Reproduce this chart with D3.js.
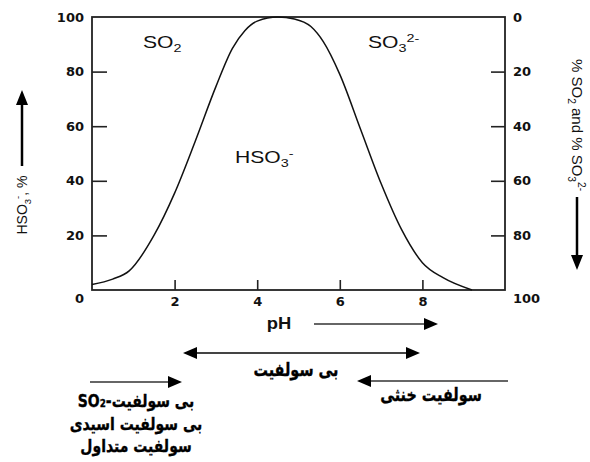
<!DOCTYPE html>
<html>
<head>
<meta charset="utf-8">
<script src="https://cdn.jsdelivr.net/npm/d3@7"></script>
<style>
  html, body { margin: 0; padding: 0; background: #fff; }
  svg { display: block; }
  .tick text { font-family: "DejaVu Sans", sans-serif; font-weight: bold; font-size: 13px; fill: #111; }
  .lbl { font-family: "Liberation Sans", Arial, sans-serif; fill: #111; }
  .fa { font-family: "DejaVu Sans", sans-serif; font-weight: bold; font-size: 18px; fill: #000; stroke: #000; stroke-width: 0.35px; direction: rtl; unicode-bidi: embed; }
</style>
</head>
<body>
<svg id="chart" width="590" height="462"></svg>
<script>
// HSO3- fraction across pH
const phValues    = [0, 0.5, 0.9, 1.5, 2.0, 2.5, 3.0, 3.4, 3.7, 4.0, 4.5, 4.9, 5.3, 5.6, 6.0, 6.5, 7.0, 7.5, 8.0, 8.5, 9.2];
const hso3Percent = [2, 4, 7, 20, 35.5, 54.5, 74.5, 88.5, 95, 98.5, 100, 99.3, 96.5, 91, 79, 59, 39, 22, 10, 4.5, 0];

const xTicks = [2, 4, 6, 8];
const leftTicks = [20, 40, 60, 80, 100];
const rightTicks = [0, 20, 40, 60, 80];

// Persian labels for the pH ranges
const bisulfiteLabel = "بی سولفیت";
const neutralSulfiteLabel = "سولفیت خنثی";
const acidLines = ["بی سولفیت-SO₂", "بی سولفیت اسیدی", "سولفیت متداول"];

const svg = d3.select("#chart");
const L = 92, R = 505, T = 17, B = 290;

const x = d3.scaleLinear().domain([0, 10]).range([L, R]);
const y = d3.scaleLinear().domain([0, 100]).range([B, T]);
const yRight = d3.scaleLinear().domain([100, 0]).range([B, T]);

// axes with inward ticks
const gL = svg.append("g").attr("transform", `translate(${L},0)`)
  .call(d3.axisLeft(y).tickValues(leftTicks).tickSize(-15).tickPadding(8).tickFormat(d3.format("d")));
const gR = svg.append("g").attr("transform", `translate(${R},0)`)
  .call(d3.axisRight(yRight).tickValues(rightTicks).tickSize(-14).tickPadding(8).tickFormat(d3.format("d")));
const gB = svg.append("g").attr("transform", `translate(0,${B})`)
  .call(d3.axisBottom(x).tickValues(xTicks).tickSize(-10).tickPadding(7).tickFormat(d3.format("d")));
[gL, gR, gB].forEach(g => {
  g.select(".domain").remove();
  g.selectAll(".tick line").attr("stroke", "#222").attr("stroke-width", 1.6);
});
gL.selectAll(".tick").filter(d => d === 100).select("line").remove();
gR.selectAll(".tick").filter(d => d === 0).select("line").remove();

// corner labels sit on the pH label row
svg.append("text").attr("class", "lbl").attr("x", L - 8).attr("y", B + 13)
  .attr("text-anchor", "end").style("font-family", "DejaVu Sans").style("font-weight", "bold").style("font-size", "13px").text("0");
svg.append("text").attr("class", "lbl").attr("x", R + 8).attr("y", B + 13)
  .style("font-family", "DejaVu Sans").style("font-weight", "bold").style("font-size", "13px").text("100");

// frame
svg.append("rect").attr("x", L).attr("y", T).attr("width", R - L).attr("height", B - T)
  .attr("fill", "none").attr("stroke", "#222").attr("stroke-width", 1.8);

// curve
const pts = phValues.map((p, i) => [p, hso3Percent[i]]);
svg.append("path").datum(pts)
  .attr("fill", "none").attr("stroke", "#111").attr("stroke-width", 1.5)
  .attr("d", d3.line().x(d => x(d[0])).y(d => y(d[1])).curve(d3.curveMonotoneX));

// chemical species labels: parts = [text, shift]
function chem(g, parts, size) {
  const t = g.append("text").attr("class", "lbl").style("font-size", size + "px");
  let cur = 0;
  parts.forEach(([s, shift]) => {
    const ts = t.append("tspan").text(s).attr("dy", shift - cur);
    if (shift !== 0) ts.style("font-size", (size * 0.68) + "px");
    cur = shift;
  });
  return t;
}
const wide = (px, py) => svg.append("g").attr("transform", `translate(${px},${py}) scale(1.28,1)`);
chem(wide(143, 48), [["SO", 0], ["2", 4]], 16.5);
chem(wide(368, 48), [["SO", 0], ["3", 4], ["2-", -6]], 16.5);
chem(wide(235, 163), [["HSO", 0], ["3", 4], ["-", -6]], 16.5);

// axis titles
chem(svg.append("g").attr("transform", "translate(27,205) rotate(-90)"),
  [["HSO", 0], ["3", 4], ["-", -6], [", %", 0]], 14).attr("text-anchor", "middle");
chem(svg.append("g").attr("transform", "translate(572,125) rotate(90)"),
  [["% SO", 0], ["2", 4], [" and % SO", 0], ["3", 4], ["2-", -6]], 15).attr("text-anchor", "middle");

svg.append("g").attr("transform", "translate(279,329) scale(1.15,1)")
  .append("text").attr("class", "lbl").attr("text-anchor", "middle")
  .style("font-weight", "bold").style("font-size", "16px").text("pH");

// arrows
function head(x2, y2, ang, len, half) {
  const c = Math.cos(ang), s = Math.sin(ang);
  const bx = x2 - c * len, by = y2 - s * len;
  svg.append("path").attr("fill", "#000")
    .attr("d", `M${x2},${y2}L${bx - s * half},${by + c * half}L${bx + s * half},${by - c * half}Z`);
}
function arrow(x1, y1, x2, y2, o) {
  const ang = Math.atan2(y2 - y1, x2 - x1);
  const len = o.len || 14;
  svg.append("line")
    .attr("x1", o.both ? x1 + Math.cos(ang) * len * 0.8 : x1).attr("y1", o.both ? y1 + Math.sin(ang) * len * 0.8 : y1)
    .attr("x2", x2 - Math.cos(ang) * len * 0.8).attr("y2", y2 - Math.sin(ang) * len * 0.8)
    .attr("stroke", o.color || "#666").attr("stroke-width", o.w || 2);
  head(x2, y2, ang, len, o.half || 6);
  if (o.both) head(x1, y1, ang + Math.PI, len, o.half || 6);
}
arrow(22, 166, 22, 90, { color: "#000", w: 2.5, len: 15, half: 6 });
arrow(577, 197, 577, 270, { color: "#000", w: 2.5, len: 15, half: 6 });
arrow(314, 324, 438, 324, { color: "#666", w: 2 });
arrow(183, 353, 420, 353, { color: "#444", w: 2, both: true });
arrow(90, 382, 182, 382, { color: "#666", w: 2 });
arrow(508, 381, 357, 381, { color: "#666", w: 2 });

// Persian range labels, drawn slightly condensed
function faText(px, py, s, size) {
  svg.append("g").attr("transform", `translate(${px},${py}) scale(0.8,1)`)
    .append("text").attr("class", "fa").attr("text-anchor", "middle")
    .style("font-size", size + "px").text(s);
}
faText(296, 376, bisulfiteLabel, 18);
faText(431, 401, neutralSulfiteLabel, 18);
acidLines.forEach((s, i) => faText(136, 407 + i * 22.5, s, 17.5));
</script>
</body>
</html>
